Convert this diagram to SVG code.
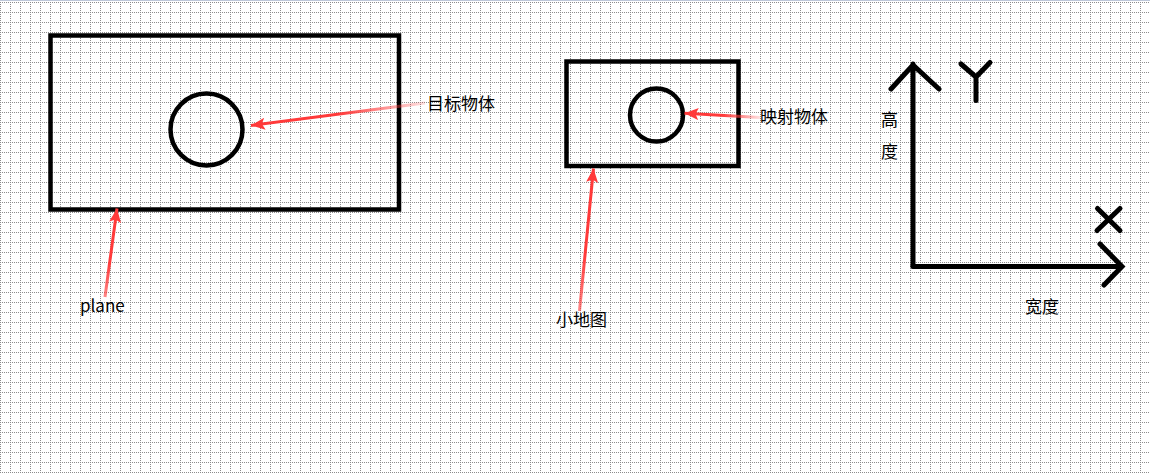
<svg xmlns="http://www.w3.org/2000/svg" width="1150" height="474" viewBox="0 0 1150 474">
<style>
.shape{fill:none;stroke:#000;stroke-width:4.5}
.axis{fill:none;stroke:#000;stroke-width:5;stroke-linecap:round;stroke-linejoin:miter}
.lbl{font-family:"Microsoft YaHei","Noto Sans CJK SC","Noto Sans",sans-serif;font-size:17px;fill:#000}
.arr{fill:none;stroke-width:3}
</style>
<defs>
<pattern id="grid" patternUnits="userSpaceOnUse" x="0" y="2" width="10" height="10">
<path d="M0.5 0V10M0 0.5H10" stroke="#8c8c8c" stroke-width="1" stroke-dasharray="1 1" shape-rendering="crispEdges" fill="none"/>
</pattern>
<marker id="ah" markerUnits="userSpaceOnUse" markerWidth="16" markerHeight="12" refX="14" refY="6" orient="auto">
<path d="M0 0L14 6L0 12L3 6Z" fill="#ff3a3a"/>
</marker>
<linearGradient id="g1" gradientUnits="userSpaceOnUse" x1="425" y1="103" x2="252" y2="125"><stop offset="0" stop-color="#ff3a3a" stop-opacity="0.15"/><stop offset="0.5" stop-color="#ff3a3a"/><stop offset="1" stop-color="#ff3a3a"/></linearGradient>
<linearGradient id="g2" gradientUnits="userSpaceOnUse" x1="105" y1="298" x2="117" y2="209"><stop offset="0" stop-color="#ff3a3a" stop-opacity="0.6"/><stop offset="0.4" stop-color="#ff3a3a"/><stop offset="1" stop-color="#ff3a3a"/></linearGradient>
<linearGradient id="g3" gradientUnits="userSpaceOnUse" x1="579" y1="312" x2="593" y2="169"><stop offset="0" stop-color="#ff3a3a" stop-opacity="0.6"/><stop offset="0.4" stop-color="#ff3a3a"/><stop offset="1" stop-color="#ff3a3a"/></linearGradient>
<linearGradient id="g4" gradientUnits="userSpaceOnUse" x1="760" y1="118" x2="686" y2="113"><stop offset="0" stop-color="#ff3a3a" stop-opacity="0.15"/><stop offset="0.5" stop-color="#ff3a3a"/><stop offset="1" stop-color="#ff3a3a"/></linearGradient>
</defs>
<rect width="1150" height="474" fill="#fff"/>
<rect width="1150" height="474" fill="url(#grid)"/>
<rect x="0" y="0" width="1150" height="1" fill="#bcc6d8"/>

<g id="plane">
<rect class="shape" x="50.5" y="35.5" width="348.5" height="174"/>
<text class="lbl" x="80" y="312">plane</text>
</g>
<g id="target">
<circle class="shape" cx="206.5" cy="129.5" r="36"/>
<text class="lbl" x="427" y="110">目标物体</text>
</g>
<g id="minimap">
<rect class="shape" x="566.5" y="61.5" width="172" height="104.5"/>
<text class="lbl" x="556" y="326">小地图</text>
</g>
<g id="mapped">
<circle class="shape" cx="656.5" cy="115" r="26.5"/>
<text class="lbl" x="760" y="123">映射物体</text>
</g>
<g id="axes">
<path class="axis" d="M913 266V64M891 89L913 65L939 89"/>
<path class="axis" d="M913 266.5H1121M1100 244L1122 266.5L1104 285"/>
<path class="axis" d="M961 64L976 77L990 62.5M976 77V100.5"/>
<path class="axis" d="M1097.5 208.5L1120 230.5M1120 208.5L1097 230.5"/>
<text class="lbl" x="881" y="126">高</text>
<text class="lbl" x="881" y="158">度</text>
<text class="lbl" x="1025" y="313">宽度</text>
</g>
<g id="connectors">
<path class="arr" stroke="url(#g1)" marker-end="url(#ah)" d="M425 103L251 125.5"/>
<path class="arr" stroke="url(#g2)" marker-end="url(#ah)" d="M105 297L117 208.5"/>
<path class="arr" stroke="url(#g3)" marker-end="url(#ah)" d="M579.5 311L593.5 168.5"/>
<path class="arr" stroke="url(#g4)" marker-end="url(#ah)" d="M760 117.5L684.5 113.3"/>
</g>
</svg>
